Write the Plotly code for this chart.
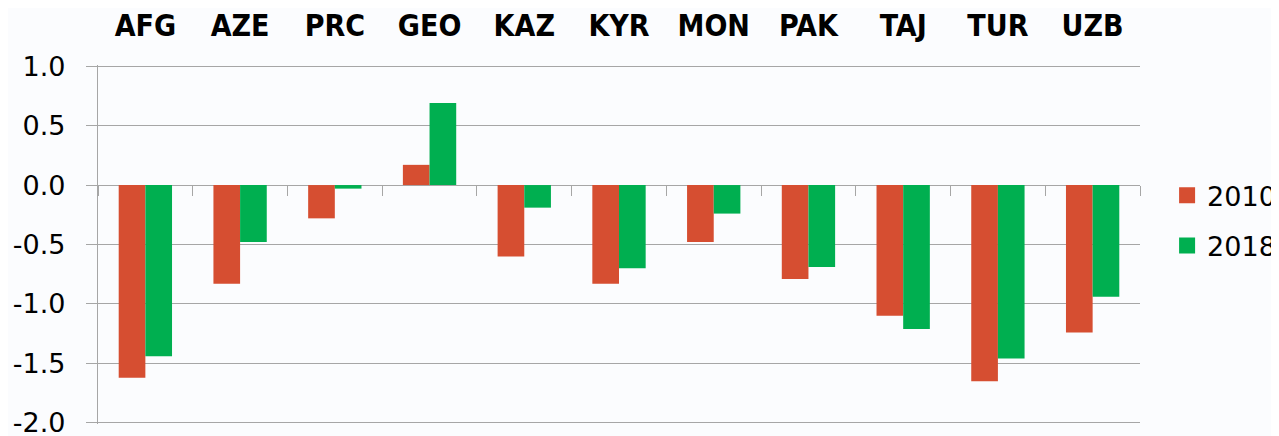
import plotly.graph_objects as go
import numpy as np

categories = ["AFG", "AZE", "PRC", "GEO", "KAZ", "KYR", "MON", "PAK", "TAJ", "TUR", "UZB"]
values_2010 = [-1.62, -0.83, -0.28, 0.17, -0.60, -0.83, -0.48, -0.79, -1.10, -1.65, -1.24]
values_2018 = [-1.44, -0.48, -0.03, 0.69, -0.19, -0.70, -0.24, -0.69, -1.21, -1.46, -0.94]
series_names = ["2010", "2018"]
y_ticks = [1.0, 0.5, 0.0, -0.5, -1.0, -1.5, -2.0]

RED = "#D64E31"
GREEN = "#00AF50"
GRID = "#A6A6A6"
n = len(categories)
ymin, ymax = -2.01, 1.01

fig = go.Figure()
fig.add_trace(go.Bar(x=categories, y=values_2010, name=series_names[0],
                     marker=dict(color=RED, line=dict(width=0)), showlegend=False))
fig.add_trace(go.Bar(x=categories, y=values_2018, name=series_names[1],
                     marker=dict(color=GREEN, line=dict(width=0)), showlegend=False))
# legend entries with larger square swatches
for nm, col, grp in [(series_names[0], RED, "a"), (series_names[1], GREEN, "b")]:
    fig.add_trace(go.Scatter(x=[None], y=[None], mode="markers", name=nm,
                             legendgroup=grp,
                             marker=dict(symbol="square", size=18, color=col)))

# boundary tick marks along the zero line
fig.add_trace(go.Scatter(x=[None], y=[None], xaxis="x2", showlegend=False))

# the page body adds an 8px margin, so the figure is sized/offset to compensate
fig.update_layout(
    width=1271, height=428,
    margin=dict(l=90, r=139, t=57, b=12, autoexpand=False),
    paper_bgcolor="#FBFCFE",
    plot_bgcolor="rgba(0,0,0,0)",
    barmode="group", bargap=0.437, bargroupgap=0.0,
    font=dict(family="DejaVu Sans, Verdana, sans-serif", color="#000000"),
    xaxis=dict(
        type="category", side="top", range=[-0.5, n - 0.5], automargin=False,
        showline=False, showgrid=False, zeroline=False, ticks="",
        tickfont=dict(family="DejaVu Sans Condensed, Liberation Sans, sans-serif",
                      size=30, color="#000000", weight="bold"),
        ticklabelstandoff=22,
    ),
    xaxis2=dict(
        overlaying="x", anchor="free", position=(0 - ymin) / (ymax - ymin),
        range=[-0.5, n - 0.5], tickvals=list(np.arange(n + 1) - 0.5),
        ticks="outside", ticklen=10, tickwidth=1.3, tickcolor=GRID, automargin=False,
        showticklabels=False, showgrid=False, showline=False, zeroline=False,
    ),
    yaxis=dict(
        range=[ymin, ymax], tickvals=y_ticks, automargin=False,
        ticktext=[f"{v:.1f}" for v in y_ticks],
        showgrid=True, gridcolor=GRID, gridwidth=1.3,
        zeroline=True, zerolinecolor=GRID, zerolinewidth=1.3,
        showline=True, linecolor=GRID, linewidth=1.3,
        ticks="outside", ticklen=11, tickcolor=GRID, tickwidth=1.3,
        tickfont=dict(size=27, color="#000000"),
        ticklabelstandoff=15, ticklabeloverflow="allow",
    ),
    legend=dict(
        x=1.026, xanchor="left", y=0.704, yanchor="top",
        font=dict(size=27, color="#000000"),
        bgcolor="rgba(0,0,0,0)", tracegroupgap=12,
        itemwidth=30,
    ),
)

fig.write_html("out.html")
